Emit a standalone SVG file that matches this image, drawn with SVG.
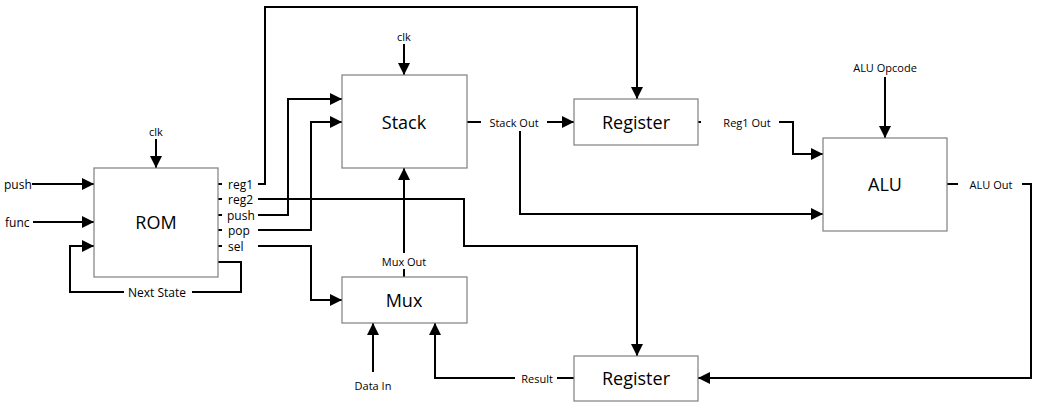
<svg xmlns="http://www.w3.org/2000/svg" width="1043" height="410" viewBox="0 0 1043 410">
<style>
.box{fill:#fff;stroke:#7f7f7f;stroke-width:1.2}
.big{font-family:"Open Sans","Noto Sans",sans-serif;font-size:18px;fill:#000;text-anchor:middle;dominant-baseline:central}
.lbl{font-family:"Open Sans","Noto Sans",sans-serif;font-size:11px;fill:#000;text-anchor:middle;dominant-baseline:central}
.port{font-family:"Open Sans","Noto Sans",sans-serif;font-size:12px;fill:#000;text-anchor:start;dominant-baseline:central}
.ln{fill:none;stroke:#000;stroke-width:2}
.arr{marker-end:url(#ah)}
.bg{fill:#fff}
</style>
<defs>
<marker id="ah" markerUnits="userSpaceOnUse" markerWidth="13" markerHeight="13" refX="12" refY="6" orient="auto">
<path d="M0,0 L12,6 L0,12 z" fill="#000"/>
</marker>
</defs>
<rect width="1043" height="410" fill="#fff"/>
<g id="connectors">
<path class="ln arr" d="M156,139 V168"/>
<path class="ln arr" d="M32,184 H94"/>
<path class="ln arr" d="M33,222 H94"/>
<path class="ln arr" d="M218,262 H241 V292 H70 V246 H94"/>
<path class="ln arr" d="M218,184 H265 V7 H637 V99"/>
<path class="ln arr" d="M218,199 H464 V246 H637 V356"/>
<path class="ln arr" d="M218,215 H288 V99 H342"/>
<path class="ln arr" d="M218,230 H311 V122 H342"/>
<path class="ln arr" d="M218,246 H311 V300 H342"/>
<path class="ln arr" d="M404,44 V75"/>
<path class="ln arr" d="M404,277 V168"/>
<path class="ln arr" d="M467,122 H574"/>
<path class="ln arr" d="M520,122 V214 H823"/>
<path class="ln arr" d="M698,122 H793 V154 H823"/>
<path class="ln arr" d="M885,77 V138"/>
<path class="ln arr" d="M947,184 H1031 V378 H698"/>
<path class="ln arr" d="M574,378 H435 V323"/>
<path class="ln arr" d="M373,372 V323"/>
<!-- labels -->
<text class="lbl" x="156" y="131">clk</text>
<text class="lbl" x="404" y="36">clk</text>
<text class="lbl" x="885" y="67">ALU Opcode</text>
<text class="lbl" x="373" y="385">Data In</text>
<text class="port" x="4" y="184">push</text>
<text class="port" x="5" y="222">func</text>
<rect class="bg" x="124" y="284" width="68" height="16"/>
<text class="port" x="128" y="292">Next State</text>
<rect class="bg" x="222" y="176" width="36" height="77"/>
<text class="port" x="228" y="184">reg1</text>
<text class="port" x="228" y="199">reg2</text>
<text class="port" x="227" y="215">push</text>
<text class="port" x="228" y="230">pop</text>
<text class="port" x="228" y="246">sel</text>
<rect class="bg" x="481" y="114" width="66" height="17"/>
<text class="lbl" x="514" y="122">Stack Out</text>
<rect class="bg" x="376" y="253" width="56" height="16"/>
<text class="lbl" x="404" y="261">Mux Out</text>
<rect class="bg" x="701" y="114" width="78" height="16"/>
<text class="lbl" x="747" y="122">Reg1 Out</text>
<rect class="bg" x="958" y="176" width="64" height="16"/>
<text class="lbl" x="991" y="184">ALU Out</text>
<rect class="bg" x="515" y="370" width="42" height="16"/>
<text class="lbl" x="537" y="378">Result</text>
</g>
<g id="rom"><rect class="box" x="94" y="168" width="124" height="109"/><text class="big" x="156" y="222">ROM</text></g>
<g id="stack"><rect class="box" x="342" y="75" width="125" height="93"/><text class="big" x="404" y="122">Stack</text></g>
<g id="mux"><rect class="box" x="342" y="277" width="125" height="46"/><text class="big" x="404" y="300">Mux</text></g>
<g id="register1"><rect class="box" x="574" y="99" width="124" height="46"/><text class="big" x="636" y="122">Register</text></g>
<g id="register2"><rect class="box" x="574" y="356" width="124" height="45"/><text class="big" x="636" y="378">Register</text></g>
<g id="alu"><rect class="box" x="823" y="138" width="124" height="93"/><text class="big" x="885" y="184">ALU</text></g>
</svg>
